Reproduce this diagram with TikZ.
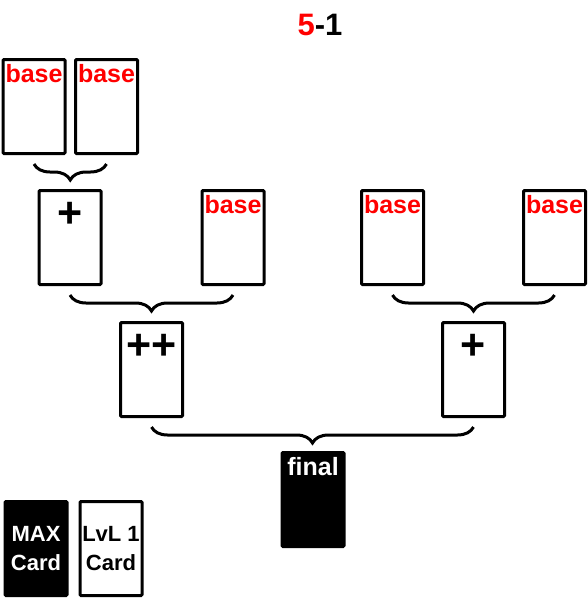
\documentclass[tikz,border=0pt]{standalone}
\usepackage{fontspec}
\setmainfont{Liberation Sans}
\usetikzlibrary{decorations.pathreplacing}

\begin{document}
\begin{tikzpicture}[x=1pt,y=-1pt]
  \def\cardw{62pt}
  \def\cardh{94pt}
  \tikzset{
    card/.style={draw,line width=3pt,fill=white,minimum width=\cardw,minimum height=\cardh,rounded corners=1pt,inner sep=0pt},
    darkcard/.style={card,fill=black,text=white},
    basetxt/.style={anchor=base,inner sep=0pt,text=red,font=\fontsize{25}{25}\selectfont\bfseries},
    plustxt/.style={anchor=base,inner sep=0pt,font=\fontsize{43}{43}\selectfont\bfseries},
    keytxt/.style={align=center,font=\fontsize{22}{29}\selectfont\bfseries},
    mybrace/.style={decorate,decoration={brace,mirror,amplitude=16pt},line width=3pt},
  }
  \useasboundingbox (0,0) rectangle (588,600);
  % title
  \node[anchor=base,inner sep=0pt,font=\fontsize{31}{31}\selectfont\bfseries] (title) at (320,35) {\textcolor{red}{5}-1};
  % cards
  \foreach \n/\x/\y in {t1/34/106.5, t2/106.5/106.5, m1/70/237.5, m2/233/237.5, m3/392.5/237.5, m4/554.5/237.5, l1/151.5/369.5, l2/473.5/369.5} {
      \node[card] (\n) at (\x,\y) {};
  }
  \node[darkcard] (fin) at (313,499.5) {};
  % card texts
  \foreach \n in {t1,t2,m2,m3,m4} {
      \node[basetxt] (\n txt) at ([yshift=-24pt]\n.north) {base};
  }
  \node[plustxt] (m1txt) at ([yshift=-38pt]m1.north) {+};
  \node[plustxt] (l1txt) at ([yshift=-38pt]l1.north) {++};
  \node[plustxt] (l2txt) at ([yshift=-38pt]l2.north) {+};
  \node[basetxt,text=white] (fintxt) at ([yshift=-24pt]fin.north) {final};
  % braces
  \foreach \a/\b in {t1/t2, m1/m2, m3/m4, l1/l2} {
      \draw[mybrace] ([yshift=-9pt]\a.south) -- ([yshift=-9pt]\b.south);
  }
  % key
  \node[darkcard,keytxt] (maxcard) at (36,548.5) {MAX\\Card};
  \node[card,keytxt] (lvlcard) at (111,548.5) {LvL 1\\Card};
\end{tikzpicture}
\end{document}
